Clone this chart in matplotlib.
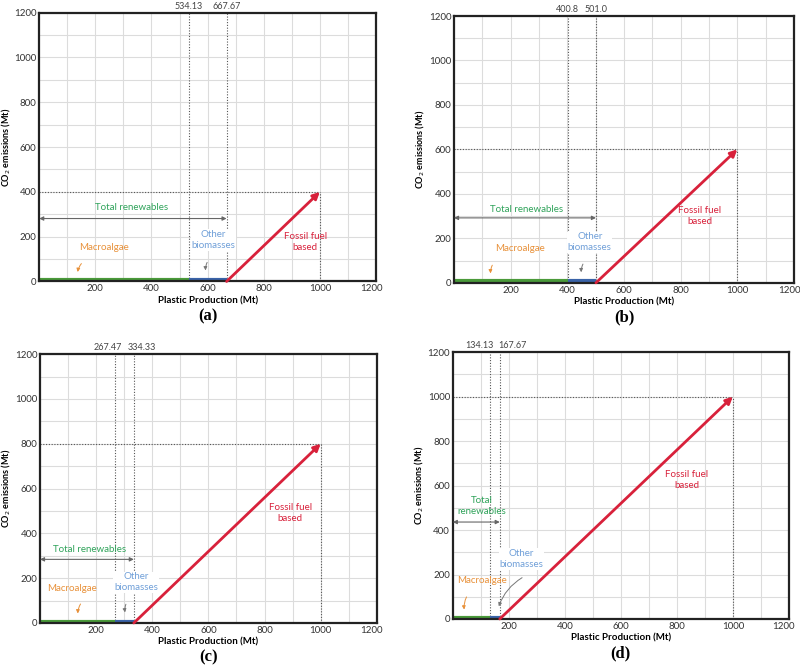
import matplotlib.pyplot as plt
import matplotlib.transforms as mtransforms

# scenario values
panel_labels = ["(a)", "(b)", "(c)", "(d)"]
macroalgae_end = [534.13, 400.8, 267.47, 134.13]
renewables_end = [667.67, 501.0, 334.33, 167.67]
fossil_end = [1000, 1000, 1000, 1000]
fossil_co2 = [400, 600, 800, 1000]
top_labels = [("534.13", "667.67"), ("400.8", "501.0"),
              ("267.47", "334.33"), ("134.13", "167.67")]

# axes rectangles in figure fraction
rects = [[0.049, 0.578, 0.421, 0.403],
         [0.5675, 0.576, 0.425, 0.400],
         [0.050, 0.066, 0.421, 0.403],
         [0.566, 0.072, 0.420, 0.400]]

# text placement per panel (data coords)
top_label_x = [(534.13, 667.67), (400.8, 501.0), (240, 363), (96, 214)]
renew_text = [(330, 330, "Total renewables"), (255, 330, "Total renewables"),
              (175, 329, "Total renewables"), (104, 510, "Total\nrenewables")]
renew_arrow_y = [281, 292, 284, 436]
macro_text = [(231, 150), (232, 153), (113, 154), (104, 172)]
macro_arrow = [((157, 89), (136, 30)), ((140, 90), (130, 30)),
               ((150, 95), (135, 30)), ((54, 110), (42, 30))]
other_text = [(620, 186), (479, 182), (342, 181), (244, 270)]
other_arrow = [((603, 96), (594, 37)), ((460, 95), (450, 35)),
               ((310, 95), (305, 35)), ((256, 192), (161, 45))]
fossil_text = [(948, 178), (867, 301), (891, 491), (836, 627)]

GREEN = "#4a9a3a"
BLUE = "#3a63a8"
RED = "#d8213b"
ORANGE = "#e8913a"
LBLUE = "#6f9fd8"
TGREEN = "#2fa35a"
GUIDE = dict(color="#555555", linestyle=(0, (1, 1.5)), linewidth=0.8)

plt.rcParams["font.family"] = ["Lato", "DejaVu Sans"]

fig = plt.figure(figsize=(8, 6.67), dpi=100)

for i in range(4):
    ax = fig.add_axes(rects[i])
    ax.set_xlim(0, 1200)
    ax.set_ylim(0, 1200)
    ax.set_xticks(range(200, 1201, 200))
    ax.set_yticks(range(0, 1201, 200))
    ax.set_xticks(range(100, 1200, 100), minor=True)
    ax.set_yticks(range(100, 1200, 100), minor=True)
    ax.grid(True, which="both", color="#dcdcdc", linewidth=0.8)
    ax.set_axisbelow(True)
    ax.tick_params(which="both", length=0, labelsize=7, colors="#333333")
    ax.tick_params(axis="x", pad=2)
    ax.tick_params(axis="y", pad=2)
    for s in ax.spines.values():
        s.set_linewidth(1.6)
        s.set_color("#222222")
    # last x label sits a little inside the frame, as in the original
    last = ax.get_xticklabels()[-1]
    last.set_transform(last.get_transform() +
                       mtransforms.ScaledTranslation(-0.05, 0, fig.dpi_scale_trans))

    m, r = macroalgae_end[i], renewables_end[i]
    fx, fy = fossil_end[i], fossil_co2[i]

    # dotted guides
    ax.axvline(m, **GUIDE)
    ax.axvline(r, **GUIDE)
    ax.plot([0, fx], [fy, fy], **GUIDE)
    ax.plot([fx, fx], [0, fy], **GUIDE)

    trans = mtransforms.blended_transform_factory(ax.transData, ax.transAxes)
    for lx, lt in zip(top_label_x[i], top_labels[i]):
        ax.text(lx, 1.008, lt, transform=trans, ha="center", va="bottom",
                fontsize=6.5, color="#444444")

    # production segments
    ax.plot([0, m], [6, 6], color=GREEN, linewidth=3, solid_capstyle="butt")
    ax.plot([m, r], [6, 6], color=BLUE, linewidth=3, solid_capstyle="butt")
    ax.annotate("", xy=(fx, fy), xytext=(r, 0),
                arrowprops=dict(arrowstyle="-|>", color=RED, lw=2,
                                mutation_scale=10, shrinkA=0, shrinkB=0))

    # total renewables span
    ax.annotate("", xy=(0, renew_arrow_y[i]), xytext=(r, renew_arrow_y[i]),
                arrowprops=dict(arrowstyle="<|-|>", color="#666666", lw=0.8,
                                mutation_scale=6, shrinkA=0, shrinkB=0))
    tx, ty, tt = renew_text[i]
    ax.text(tx, ty, tt, ha="center", va="center", fontsize=7, color=TGREEN,
            linespacing=1.3)

    ax.text(*macro_text[i], "Macroalgae", ha="center", va="center",
            fontsize=7, color=ORANGE)
    ax.annotate("", xy=macro_arrow[i][1], xytext=macro_arrow[i][0],
                arrowprops=dict(arrowstyle="-|>", color=ORANGE, lw=0.7,
                                mutation_scale=5,
                                connectionstyle="arc3,rad=0.2"))
    ax.text(*other_text[i], "Other\nbiomasses", ha="center", va="center",
            fontsize=7, color=LBLUE, linespacing=1.3,
            bbox=dict(facecolor="white", edgecolor="none", pad=0.5))
    ax.annotate("", xy=other_arrow[i][1], xytext=other_arrow[i][0],
                arrowprops=dict(arrowstyle="-|>", color="#777777", lw=0.7,
                                mutation_scale=5,
                                connectionstyle="arc3,rad=0.2"))
    ax.text(*fossil_text[i], "Fossil fuel\nbased", ha="center", va="center",
            fontsize=7, color=RED, linespacing=1.3)

    ax.set_xlabel("Plastic Production (Mt)", fontsize=7, fontweight="bold", labelpad=2)
    ax.set_ylabel("CO$_2$ emissions (Mt)", fontsize=6.5, fontweight="bold", labelpad=1)
    ax.annotate(panel_labels[i], xy=(0.5, 0), xycoords="axes fraction",
                xytext=(0, -25), textcoords="offset points", ha="center",
                va="center", fontsize=12, fontweight="bold",
                family="Liberation Serif")

fig.savefig("out.png", dpi=100)
